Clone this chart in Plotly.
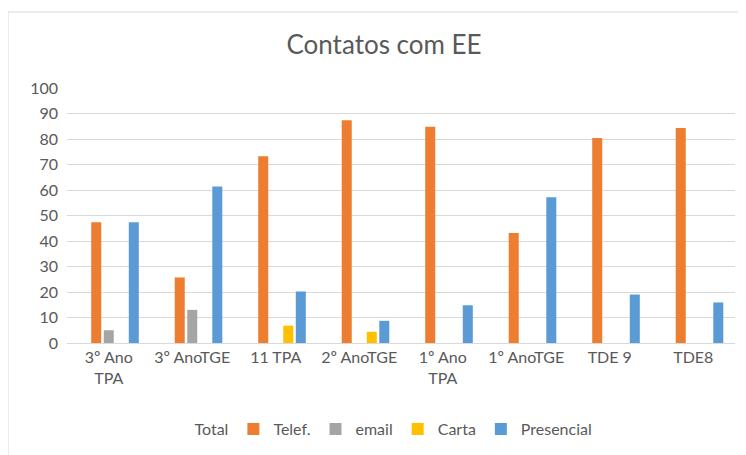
import plotly.graph_objects as go

categories = ["3º Ano<br>TPA", "3º AnoTGE", "11 TPA", "2º AnoTGE", "1º Ano<br>TPA", "1º AnoTGE", "TDE 9", "TDE8"]
total = [None, None, None, None, None, None, None, None]
telef = [47.4, 25.7, 73.2, 87.4, 84.8, 43.1, 80.4, 84.3]
email = [5.0, 13.0, None, None, None, None, None, None]
carta = [None, None, 6.8, 4.4, None, None, None, None]
presencial = [47.4, 61.4, 20.2, 8.7, 14.8, 57.2, 19.0, 15.9]
y_ticks = [0, 10, 20, 30, 40, 50, 60, 70, 80, 90, 100]

font_family = "Lato, 'Open Sans', sans-serif"
text_color = "#595959"

# page body has an 8px margin; work in screen coordinates and subtract it
OFF = 8
W, H = 746 - OFF, 455 - OFF
ML, MR, MT, MB = 67 - OFF, 11, 88 - OFF, 112
PW, PH = W - ML - MR, H - MT - MB

fig = go.Figure()
series = [("Total", total, "rgba(0,0,0,0)"), ("Telef.", telef, "#ED7D31"), ("email", email, "#A5A5A5"),
          ("Carta", carta, "#FFC000"), ("Presencial", presencial, "#5B9BD5")]
for name, vals, col in series:
    fig.add_trace(go.Bar(x=categories, y=vals, name=name, marker=dict(color=col, line=dict(width=0))))

def px_x(p):
    return (p - OFF - ML) / PW

def px_y(p):
    return (H - MB - (p - OFF)) / PH

fig.update_layout(
    width=W, height=H,
    margin=dict(l=ML, r=MR, t=MT, b=MB, autoexpand=False),
    paper_bgcolor="white", plot_bgcolor="white",
    barmode="group", bargap=0.25, bargroupgap=0.2,
    title=dict(text="Contatos com EE", x=(384 - OFF) / W, xanchor="center", y=1 - (45 - OFF) / H, yanchor="middle",
               font=dict(family=font_family, size=26, color=text_color)),
    font=dict(family=font_family, size=16, color=text_color),
    xaxis=dict(showgrid=False, showline=True, linecolor="#D9D9D9", linewidth=1,
               ticks="", tickfont=dict(size=16, color=text_color)),
    yaxis=dict(range=[0, 100], tickvals=y_ticks, showgrid=True, gridcolor="#D9D9D9", gridwidth=1,
               zeroline=False, showline=False, ticks="", ticklabelstandoff=8,
               tickfont=dict(size=16, color=text_color)),
    legend=dict(orientation="h", x=(376 - OFF - ML) / PW, xanchor="center", y=px_y(429), yanchor="middle",
                font=dict(size=16, color=text_color), itemwidth=30, traceorder="normal"),
    shapes=[
        dict(type="line", xref="paper", yref="paper", x0=px_x(8), x1=px_x(760), y0=px_y(12), y1=px_y(12),
             line=dict(color="#D9D9D9", width=1)),
        dict(type="line", xref="paper", yref="paper", x0=px_x(8), x1=px_x(8), y0=px_y(470), y1=px_y(12),
             line=dict(color="#D9D9D9", width=1)),
    ],
)

fig.write_html("out.html")
